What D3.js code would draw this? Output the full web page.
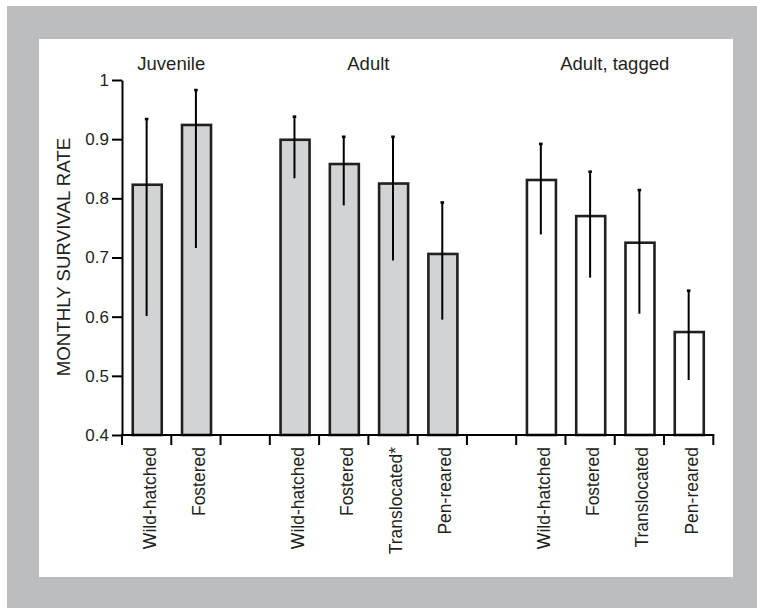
<!DOCTYPE html>
<html>
<head>
<meta charset="utf-8">
<script src="https://cdn.jsdelivr.net/npm/d3@7"></script>
<style>
    body { margin: 0; background: #fff; }
    svg { display: block; font-family: 'Liberation Sans', Arial, sans-serif; }
</style>
</head>
<body>
<script>
// Group titles and which bars belong to them
const groups = ['Juvenile', 'Adult', 'Adult, tagged'];
const barGroup = [0, 0, 1, 1, 1, 1, 2, 2, 2, 2];

// Bar labels, estimated survival rate and error bar limits
const barLabels = [
    'Wild-hatched', 'Fostered',
    'Wild-hatched', 'Fostered', 'Translocated*', 'Pen-reared',
    'Wild-hatched', 'Fostered', 'Translocated', 'Pen-reared',
];
const survival = [0.823, 0.924, 0.899, 0.858, 0.825, 0.706, 0.831, 0.770, 0.725, 0.574];
const lowerCI = [0.601, 0.716, 0.834, 0.788, 0.695, 0.595, 0.739, 0.666, 0.605, 0.493];
const upperCI = [0.934, 0.983, 0.938, 0.904, 0.904, 0.793, 0.892, 0.845, 0.814, 0.644];

const yTicks = [0.4, 0.5, 0.6, 0.7, 0.8, 0.9, 1];
const yTitle = 'MONTHLY SURVIVAL RATE';

const ink = '#231f20';
const frameGray = '#bcbdc0';

// build slot list: bars with one empty slot between groups
const slots = [];
barLabels.forEach((label, i) => {
    if (i > 0 && barGroup[i] !== barGroup[i - 1]) slots.push('gap' + i);
    slots.push('bar' + i);
});

const svg = d3.select('body')
    .append('svg')
    .attr('width', 757)
    .attr('height', 608);

// grey frame with white panel
svg.append('rect')
    .attr('x', 7).attr('y', 6)
    .attr('width', 750).attr('height', 602)
    .attr('fill', frameGray);
svg.append('rect')
    .attr('x', 39).attr('y', 39)
    .attr('width', 694).attr('height', 538)
    .attr('fill', '#fff');

const xScale = d3.scaleBand()
    .domain(slots)
    .range([122, 713.3])
    .padding(0);

const yScale = d3.scaleLinear()
    .domain([0.4, 1])
    .range([435, 80]);

const barW = 29;
const cx = (i) => xScale('bar' + i) + xScale.bandwidth() / 2 + 0.6;

// bars
svg.append('g')
    .selectAll('rect')
    .data(survival)
    .join('rect')
    .attr('x', (d, i) => cx(i) - barW / 2)
    .attr('y', (d) => yScale(d))
    .attr('width', barW)
    .attr('height', (d) => yScale(0.4) - yScale(d))
    .attr('fill', (d, i) => (barGroup[i] === 2 ? '#fff' : '#d1d3d4'))
    .attr('stroke', ink)
    .attr('stroke-width', 2.6);

// error bars
const err = svg.append('g')
    .attr('stroke', '#000')
    .attr('stroke-width', 2);
err.selectAll('line.whisker')
    .data(survival)
    .join('line')
    .attr('class', 'whisker')
    .attr('x1', (d, i) => cx(i) - 0.6)
    .attr('x2', (d, i) => cx(i) - 0.6)
    .attr('y1', (d, i) => yScale(upperCI[i]))
    .attr('y2', (d, i) => yScale(lowerCI[i]));
err.selectAll('line.cap')
    .data(upperCI)
    .join('line')
    .attr('class', 'cap')
    .attr('x1', (d, i) => cx(i) - 2.4)
    .attr('x2', (d, i) => cx(i) + 1.2)
    .attr('y1', (d) => yScale(d))
    .attr('y2', (d) => yScale(d))
    .attr('stroke-width', 2.6);

// y axis
const yAxis = d3.axisLeft(yScale)
    .tickValues(yTicks)
    .tickFormat((d) => String(+d.toFixed(1)))
    .tickSize(10)
    .tickSizeOuter(0)
    .tickPadding(3);
const yG = svg.append('g')
    .attr('transform', 'translate(122,0)')
    .call(yAxis);
yG.select('.domain').attr('stroke', '#000').attr('stroke-width', 2);
yG.selectAll('.tick line').attr('stroke', '#000').attr('stroke-width', 2);
yG.selectAll('.tick text')
    .attr('fill', ink)
    .style('font-size', '17px')
    .style('font-family', "'Liberation Sans', Arial, sans-serif");

svg.append('text')
    .text(yTitle)
    .attr('transform', 'translate(70,257) rotate(-90)')
    .attr('text-anchor', 'middle')
    .attr('fill', ink)
    .style('font-size', '18.7px');

// x axis: baseline with ticks on slot boundaries
const edges = slots.map((s) => xScale(s)).concat([xScale.range()[1]]);
const xG = svg.append('g')
    .attr('stroke', '#000')
    .attr('stroke-width', 2);
xG.append('line')
    .attr('x1', 121).attr('x2', edges[edges.length - 1] + 1)
    .attr('y1', yScale(0.4)).attr('y2', yScale(0.4));
xG.selectAll('line.tick')
    .data(edges)
    .join('line')
    .attr('class', 'tick')
    .attr('x1', (d) => d).attr('x2', (d) => d)
    .attr('y1', yScale(0.4)).attr('y2', yScale(0.4) + 10);

// rotated category labels
svg.append('g')
    .selectAll('text')
    .data(barLabels)
    .join('text')
    .text((d) => d)
    .attr('transform', (d, i) => 'translate(' + (cx(i) - 0.6) + ',447) rotate(-90)')
    .attr('text-anchor', 'end')
    .attr('dy', '0.52em')
    .attr('fill', ink)
    .style('font-size', '17.5px');

// group titles centred over their slots
svg.append('g')
    .selectAll('text')
    .data(groups)
    .join('text')
    .text((d) => d)
    .attr('x', (d, g) => {
        const idx = barGroup.map((b, i) => (b === g ? i : -1)).filter((i) => i >= 0);
        const left = xScale('bar' + idx[0]);
        const right = xScale('bar' + idx[idx.length - 1]) + xScale.bandwidth();
        return (left + right) / 2;
    })
    .attr('y', 70)
    .attr('text-anchor', 'middle')
    .attr('fill', ink)
    .style('font-size', '18.5px');
</script>
</body>
</html>
